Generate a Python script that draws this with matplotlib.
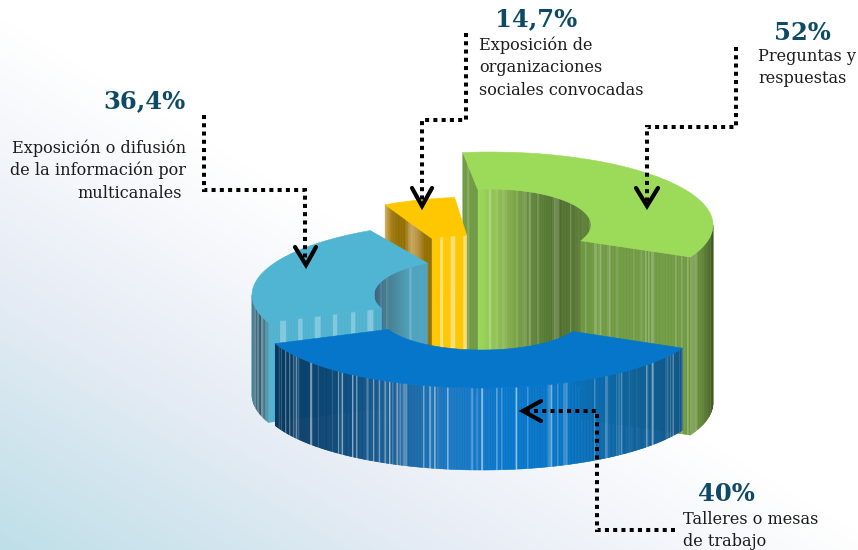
import numpy as np
import matplotlib
matplotlib.use("Agg")
import matplotlib.pyplot as plt
from matplotlib.collections import PolyCollection
from matplotlib.colors import LinearSegmentedColormap
from matplotlib.patches import Polygon

# ---- chart content ----
slice_names = ["Exposición de organizaciones sociales convocadas", "Preguntas y respuestas",
               "Talleres o mesas de trabajo", "Exposición o difusión de la información por multicanales"]
percent_labels = ["14,7%", "52%", "40%", "36,4%"]
# sweep of each slice as drawn in the picture (degrees), clockwise from the first cut
sweep_deg = [21, 123, 132, 84]
first_cut_deg = -28

# ---- layout of each slice (pixels) ----
centers = [(479, 263), (490, 225), (482, 317), (475, 295)]
outer_axes = [(200, 66), (223, 73), (223, 71), (223, 73)]
inner_axes = [(101, 28), (101, 36), (101, 33), (101, 36)]
heights = [120, 178, 82, 100]
start_cut_extra = [0, 30, 0, 0]
stack_order = [1, 0, 3, 2]          # back to front
top_colors = ["#FFC700", "#9CDB59", "#0576C9", "#4FB5D3"]
outer_ramps = [["#FFC700", "#FFC700"],
               ["#6F9640", "#64893A", "#3F5A1F"],
               ["#06375F", "#0A4676", "#195F97", "#1A78C2", "#0676CC", "#0673C4", "#0C639F", "#11568A"],
               ["#3D7E96", "#33596B", "#4F97AE"]]
inner_ramps = [["#FFC700", "#FFC700"],
               ["#9CD95A", "#86B24C", "#5F843A", "#4E6D2C", "#5F8238"],
               ["#0576C9", "#0576C9"],
               ["#37637A", "#47849C", "#4FA3C0", "#4FA6C4"]]
cut_ramps = [["#D0B060", "#A07A10", "#946F00", "#946F00", "#C8A860", "#B89040", "#946F00", "#946F00"],
             ["#6F9A42", "#6F9A42"],
             ["#0576C9", "#0576C9"],
             ["#4FB2D0", "#4FB2D0"]]
streak_amounts = [(0.0, 0.0, 0.0), (0.14, 0.14, 0.14), (0.34, 0.0, 0.0), (0.20, 0.0, 0.30)]
# regular wide stripes: (face, period px, width px, strength)
band_specs = {0: ("inner", 12, 4, 0.45), 3: ("cut", 17.5, 5, 0.28)}

# callouts
callouts = [[(466, 33), (466, 120), (422, 120), (422, 203)],
            [(736, 47), (736, 127), (647, 127), (647, 204)],
            [(675, 530), (597, 530), (597, 411), (525, 411)],
            [(204, 115), (204, 190), (305, 190), (305, 262)]]
chevrons = [[(412, 188), (422, 206), (432, 188)],
            [(636, 188), (647, 206), (658, 188)],
            [(541, 401), (523, 411), (541, 421)],
            [(295, 247), (306, 265), (316, 247)]]

percent_pos = [(495, 26, "left"), (774, 40, "left"), (698, 501, "left"), (186, 108, "right")]
label_lines = [["Exposición de", "organizaciones", "sociales convocadas"],
               ["Preguntas y", "respuestas"],
               ["Talleres o mesas", "de trabajo"],
               ["Exposición o difusión", "de la información por", "multicanales"]]
label_pos = [[(479, 50, "left"), (479, 72, "left"), (479, 95, "left")],
             [(758, 61, "left"), (758, 83, "left")],
             [(683, 524, "left"), (683, 546, "left")],
             [(186, 153, "right"), (186, 175, "right"), (182, 198, "right")]]

W, H = 858, 550
fig = plt.figure(figsize=(W / 100, H / 100), dpi=100)
ax = fig.add_axes([0, 0, 1, 1])
ax.set_xlim(0, W)
ax.set_ylim(H, 0)
ax.axis("off")

# background
yy, xx = np.mgrid[0:H, 0:W]
grad = ((W - xx) * 0.6 + yy) / (W * 0.6 + H)
bg = LinearSegmentedColormap.from_list("bg", [(0, "#FFFFFF"), (0.5, "#FFFFFF"), (0.75, "#E6ECF5"), (1, "#BEDFE8")])
ax.imshow(grad, cmap=bg, vmin=0, vmax=1, extent=(0, W, H, 0), aspect="auto", zorder=0)


def noise(n, key):
    i = np.arange(n) + key * 37.0
    v = np.sin(i * 12.9898 + key) * 43758.5453
    return v - np.floor(v)


def strip_face(xs, ytop, h, ramp, amount, key, z, band=None):
    n = len(xs) - 1
    if n < 1:
        return
    cmap = LinearSegmentedColormap.from_list("f", ramp)
    lo, hi = min(xs), max(xs)
    mid = 0.5 * (xs[:-1] + xs[1:])
    frac = (mid - lo) / max(hi - lo, 1e-6)
    cols = cmap(frac)[:, :3]
    r = noise(n, key)
    s = np.where(r > 0.72, amount * (r - 0.72) / 0.28 * 1.8, 0.0)
    if band is not None:
        period, width, strength = band
        s = np.maximum(s, np.where(((mid - lo) % period) > period - width, strength, 0.0))
    cols = cols + (1 - cols) * s[:, None]
    verts = [[(xs[i], ytop[i]), (xs[i + 1], ytop[i + 1]),
              (xs[i + 1], ytop[i + 1] + h), (xs[i], ytop[i] + h)] for i in range(n)]
    ax.add_collection(PolyCollection(verts, facecolors=cols, edgecolors=cols, linewidths=0.4, zorder=z))


edges = first_cut_deg + np.cumsum([0] + sweep_deg)
for rank, k in enumerate(stack_order):
    t0, t1 = float(edges[k]), float(edges[k + 1])
    cx, cy = centers[k]
    a, b = outer_axes[k]
    ai, bi = inner_axes[k]
    h = heights[k]
    z = 2 + rank * 5
    ao, ac, ain = streak_amounts[k]
    spec = band_specs.get(k)

    def out_pt(t):
        t = np.radians(t)
        return cx + a * np.sin(t), cy - b * np.cos(t)

    def in_pt(t):
        t = np.radians(t)
        return cx + ai * np.sin(t), cy - bi * np.cos(t)

    # inner wall (faces the viewer on the far half); slices past 180 deg are also tried one turn back
    for shift in (0, -360):
        lo, hi = max(t0 + shift, -90), min(t1 + shift, 90)
        if hi > lo:
            px = abs(in_pt(hi)[0] - in_pt(lo)[0])
            ts = np.linspace(lo, hi, max(int(px / 1.5), 2) + 1)
            xs, ys = in_pt(ts)
            order = np.argsort(xs)
            strip_face(xs[order], ys[order], h, inner_ramps[k], ain, k + 1, z,
                       band=spec[1:] if spec and spec[0] == "inner" else None)
    # cut faces
    for t, visible, extra in ((t0, np.sin(np.radians(t0)) < 0, start_cut_extra[k]),
                              (t1, np.sin(np.radians(t1)) > 0, 0)):
        if visible:
            ox, oy = out_pt(t)
            ix, iy = in_pt(t)
            f = np.linspace(0, 1, max(int(abs(ox - ix) / 1.5), 2) + 1)
            xs = ix + (ox - ix) * f
            ys = iy + (oy - iy) * f
            order = np.argsort(xs)
            strip_face(xs[order], ys[order], h + extra, cut_ramps[k], ac, k + 11, z + 1,
                       band=spec[1:] if spec and spec[0] == "cut" else None)
    # outer wall (faces the viewer on the near half)
    lo, hi = max(t0, 90), min(t1, 270)
    if hi > lo:
        px = abs(out_pt(hi)[0] - out_pt(lo)[0])
        ts = np.linspace(lo, hi, max(int(px / 1.3), 2) + 1)
        xs, ys = out_pt(ts)
        order = np.argsort(xs)
        strip_face(xs[order], ys[order], h, outer_ramps[k], ao, k + 21, z + 2)
    # top surface
    ts = np.linspace(t0, t1, 160)
    ox, oy = out_pt(ts)
    ix, iy = in_pt(ts[::-1])
    ax.add_patch(Polygon(np.column_stack([np.r_[ox, ix], np.r_[oy, iy]]), closed=True,
                         facecolor=top_colors[k], edgecolor=top_colors[k], linewidth=0.4, zorder=z + 3))

# callouts
for path, chev in zip(callouts, chevrons):
    px, py = zip(*path)
    ax.plot(px, py, color="black", lw=2.9, ls=(0, (1.0, 1.05)), dash_capstyle="butt",
            dash_joinstyle="miter", zorder=40)
    cxs, cys = zip(*chev)
    ax.plot(cxs, cys, color="black", lw=3.0, solid_capstyle="round", solid_joinstyle="miter", zorder=41)

# text
for txt, (x, y, ha) in zip(percent_labels, percent_pos):
    ax.text(x, y, txt, fontsize=17.5, fontweight="bold", family="DejaVu Serif", color="#0E4A66",
            ha=ha, va="baseline", zorder=50)
for lines, poss in zip(label_lines, label_pos):
    for line, (x, y, ha) in zip(lines, poss):
        ax.text(x, y, line, fontsize=11.6, family="DejaVu Serif", color="#1C1C1C",
                ha=ha, va="baseline", zorder=50)

fig.savefig("out.png", dpi=100)
